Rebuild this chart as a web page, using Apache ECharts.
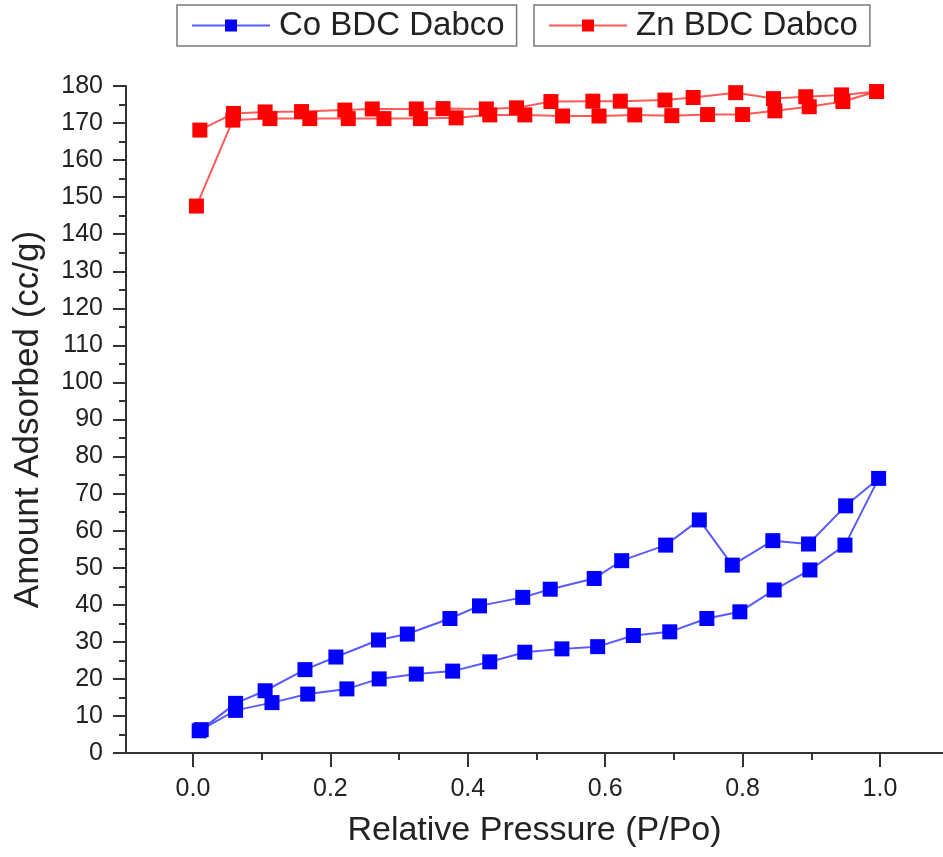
<!DOCTYPE html>
<html>
<head>
<meta charset="utf-8">
<title>Isotherm</title>
<script src="https://cdn.jsdelivr.net/npm/echarts@6/dist/echarts.min.js"></script>
<style>
  html, body { margin: 0; padding: 0; background: #fff; }
  #chart { width: 943px; height: 857px; }
</style>
</head>
<body>
<div id="chart"></div>
<script>
// Co BDC Dabco, adsorption then desorption branch
const coAdsP = [0.009, 0.062, 0.115, 0.167, 0.224, 0.271, 0.325, 0.378, 0.432, 0.483, 0.537, 0.589, 0.641, 0.694, 0.748, 0.796, 0.846, 0.898, 0.949, 0.998];
const coAdsQ = [6.0, 11.5, 13.6, 15.9, 17.3, 20.0, 21.3, 22.1, 24.6, 27.2, 28.1, 28.7, 31.7, 32.7, 36.3, 38.1, 44.0, 49.4, 56.1, 74.1];
const coDesP = [0.950, 0.896, 0.844, 0.785, 0.737, 0.688, 0.624, 0.584, 0.520, 0.480, 0.417, 0.374, 0.312, 0.270, 0.208, 0.163, 0.105, 0.062, 0.012];
const coDesQ = [66.7, 56.4, 57.3, 50.7, 62.9, 56.1, 51.9, 47.1, 44.2, 42.0, 39.7, 36.3, 32.1, 30.5, 25.9, 22.5, 16.8, 13.4, 6.3];

// Zn BDC Dabco
const znAdsP = [0.005, 0.058, 0.112, 0.170, 0.226, 0.278, 0.331, 0.383, 0.432, 0.483, 0.538, 0.591, 0.643, 0.697, 0.749, 0.800, 0.847, 0.897, 0.946, 0.995];
const znAdsQ = [147.6, 170.8, 171.2, 171.2, 171.2, 171.2, 171.2, 171.4, 172.2, 172.2, 171.9, 171.9, 172.2, 172.0, 172.3, 172.3, 173.3, 174.4, 175.8, 178.5];
const znDesP = [0.944, 0.892, 0.845, 0.790, 0.728, 0.687, 0.622, 0.582, 0.521, 0.471, 0.427, 0.364, 0.325, 0.261, 0.221, 0.158, 0.105, 0.059, 0.010];
const znDesQ = [177.6, 177.1, 176.6, 178.2, 176.9, 176.2, 175.9, 175.9, 175.8, 174.1, 173.8, 173.9, 173.8, 173.8, 173.5, 173.1, 173.0, 172.6, 168.1];

const xMajorTicks = [0, 0.2, 0.4, 0.6, 0.8, 1.0];
const xMinorTicks = [0.1, 0.3, 0.5, 0.7, 0.9];
// the plot is cut at the right edge, so the x range is not symmetric
const xMin = -0.0975;
const xMax = 1.0917;

const zip = (xs, ys) => xs.map((x, i) => [x, ys[i]]);

const font = 'Liberation Sans, Arial, sans-serif';
const ink = '#222';

const myChart = echarts.init(document.getElementById('chart'));

const legendBase = {
  top: 5,
  orient: 'horizontal',
  padding: [4, 12, 4, 14],
  itemWidth: 78,
  itemHeight: 15,
  borderColor: '#7a7a7a',
  borderWidth: 1.5,
  backgroundColor: '#fff',
  textStyle: { fontFamily: font, fontSize: 33, color: ink, padding: [0, 0, 0, 4] },
};

const option = {
  animation: false,
  backgroundColor: '#fff',
  legend: [
    Object.assign({}, legendBase, { left: 177, data: ['Co BDC Dabco'] }),
    Object.assign({}, legendBase, { left: 534, data: ['Zn BDC Dabco'] }),
  ],
  grid: { left: 126, top: 86, bottom: 104, right: 0, containLabel: false },
  xAxis: [
    {
      type: 'value',
      min: xMin,
      max: xMax,
      name: 'Relative Pressure (P/Po)',
      nameLocation: 'middle',
      nameGap: 61,
      nameTextStyle: { fontFamily: font, fontSize: 34, color: ink },
      axisLine: { onZero: false, lineStyle: { color: '#333', width: 2 } },
      axisTick: { customValues: xMajorTicks, length: 14, lineStyle: { color: '#333', width: 2 } },
      axisLabel: {
        customValues: xMajorTicks,
        margin: 24,
        fontFamily: font,
        fontSize: 25,
        color: ink,
        formatter: (v) => v.toFixed(1),
      },
      splitLine: { show: false },
    },
    {
      type: 'value',
      min: xMin,
      max: xMax,
      position: 'bottom',
      axisLine: { show: false, onZero: false },
      axisTick: { customValues: xMinorTicks, length: 7, lineStyle: { color: '#333', width: 2 } },
      axisLabel: { show: false },
      splitLine: { show: false },
    },
  ],
  yAxis: {
    type: 'value',
    min: 0,
    max: 180,
    interval: 10,
    name: 'Amount Adsorbed (cc/g)',
    nameLocation: 'middle',
    nameGap: 80,
    nameTextStyle: { fontFamily: font, fontSize: 35, color: ink },
    axisLine: { show: true, onZero: false, lineStyle: { color: '#333', width: 2 } },
    axisTick: { show: true, length: 13, lineStyle: { color: '#333', width: 2 } },
    minorTick: { show: true, splitNumber: 2, length: 7, lineStyle: { color: '#333', width: 2 } },
    axisLabel: { margin: 23, fontFamily: font, fontSize: 25, color: ink },
    splitLine: { show: false },
  },
  series: [
    {
      name: 'Co BDC Dabco',
      type: 'line',
      symbol: 'rect',
      symbolSize: 15,
      itemStyle: { color: '#0000ff' },
      lineStyle: { color: '#5a5aff', width: 2 },
      data: zip(coAdsP, coAdsQ).concat(zip(coDesP, coDesQ)),
    },
    {
      name: 'Zn BDC Dabco',
      type: 'line',
      symbol: 'rect',
      symbolSize: 15,
      itemStyle: { color: '#ff0000' },
      lineStyle: { color: '#ff5a5a', width: 2 },
      data: zip(znAdsP, znAdsQ).concat(zip(znDesP, znDesQ)),
    },
  ],
};

myChart.setOption(option);
</script>
</body>
</html>
